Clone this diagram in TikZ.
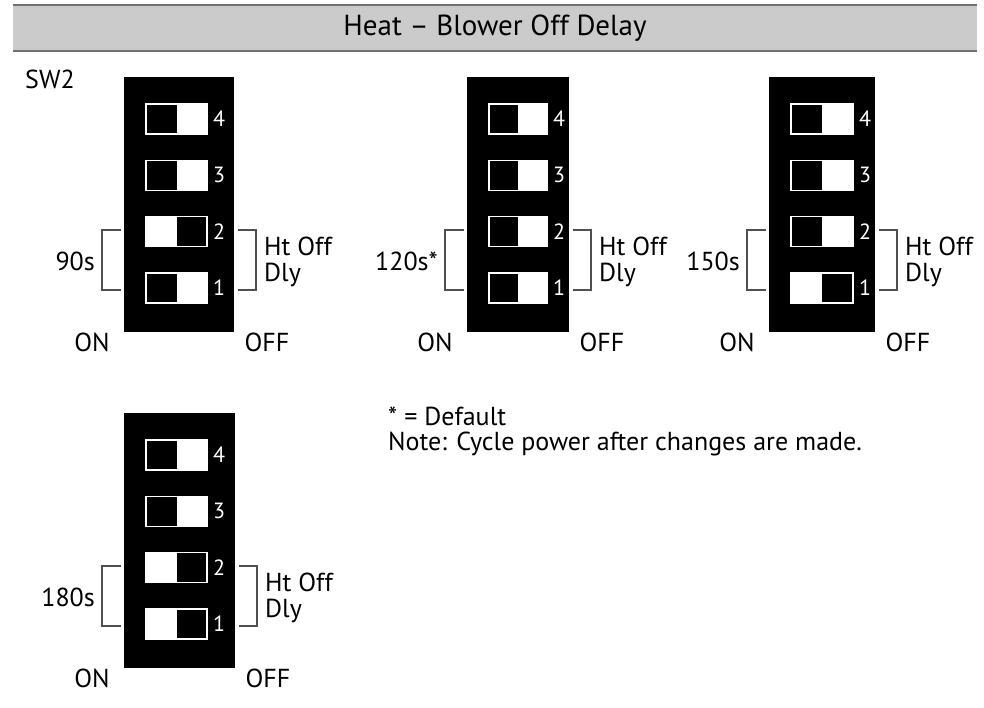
\documentclass[tikz,border=0pt]{standalone}
\usepackage{fontspec}
\setmainfont{PT Sans}
\usepackage{tikz}
\usetikzlibrary{calc,positioning}
\definecolor{bandgray}{HTML}{CBCBCB}
\definecolor{rulegray}{HTML}{707070}
\definecolor{brackgray}{HTML}{505050}

\begin{document}
\begin{tikzpicture}[x=1pt, y=-1pt,
    lbl/.style={font=\fontsize{26}{30}\selectfont, inner sep=0pt},
    num/.style={white, font=\fontsize{22}{26}\selectfont, inner sep=0pt},
    brk/.style={draw=brackgray, line width=1.3pt},
    knob/.style={draw=white, line width=1.5pt}]
    \useasboundingbox (0,0) rectangle (984,708);
    \def\th{30}
    \def\gap{56.3}

    % Header band
    \fill[bandgray] (13,5) rectangle (977,51);
    \draw[rulegray, line width=2pt] (13,5) -- (977,5);
    \draw[rulegray, line width=2pt] (13,51) -- (977,51);
    \node[lbl, font=\fontsize{29}{33}\selectfont] (title) at (495,28) {Heat – Blower Off Delay};

    \node[lbl, anchor=west] (swname) at (25,79) {SW2};

    % DIP switches: name/x/y/body width/knob width/time/states (knob/flipped)
    \foreach \n/\xx/\yy/\W/\tw/\tm/\states in {
        a/124/77/110/61/90s/{4/0,3/0,2/1,1/0},
        b/467/77/102/58/120s*/{4/0,3/0,2/0,1/0},
        c/769/77/106/62/150s/{4/0,3/0,2/0,1/1},
        d/124/413/111/61/180s/{4/0,3/0,2/1,1/1}} {
        \coordinate (sw\n) at (\xx,\yy);
        \fill[black] (sw\n) rectangle ++(\W,255);

        % knobs and their numbers
        \foreach \k/\s in \states {
            \pgfmathsetmacro{\ky}{27 + (4-\k)*\gap}
            \pgfmathsetmacro{\bx}{\s*\tw/2}
            \coordinate (k\n\k) at ($(sw\n)+(22,\ky)$);
            \fill[white] (k\n\k) rectangle ++(\tw,\th);
            \fill[black] ($(k\n\k)+(\bx,0)$) rectangle ++({\tw/2},\th);
            \draw[knob] (k\n\k) rectangle ++(\tw,\th);
            \node[num] (n\n\k) at ($(k\n\k)+(\tw+12,15)$) {\k};
        }

        % brackets round knobs 2 and 1
        \coordinate (lt\n) at ($(sw\n)+(-3,153)$);
        \coordinate (rt\n) at ($(sw\n)+(\W+4,153)$);
        \draw[brk] (lt\n) -- ++(-19,0) -- ++(0,60) -- ++(19,0);
        \draw[brk] (rt\n) -- ++(18,0) -- ++(0,60) -- ++(-18,0);
        \node[lbl, anchor=east] (t\n) at ($(lt\n)+(-26,31)$) {\tm};
        \node[lbl, anchor=west] (ht\n) at ($(rt\n)+(26,16)$) {Ht Off};
        \node[lbl, anchor=west] (dly\n) at ($(rt\n)+(26,45)$) {Dly};

        \node[lbl] (on\n) at ($(sw\n)+(-32,265)$) {ON};
        \node[lbl] (off\n) at ($(sw\n)+(\W+33,265)$) {OFF};
    }

    % Notes
    \node[lbl, anchor=west] (dflt) at (388,416) {* = Default};
    \node[lbl, anchor=west] (note) at (388,444) {Note: Cycle power after changes are made.};
\end{tikzpicture}
\end{document}
